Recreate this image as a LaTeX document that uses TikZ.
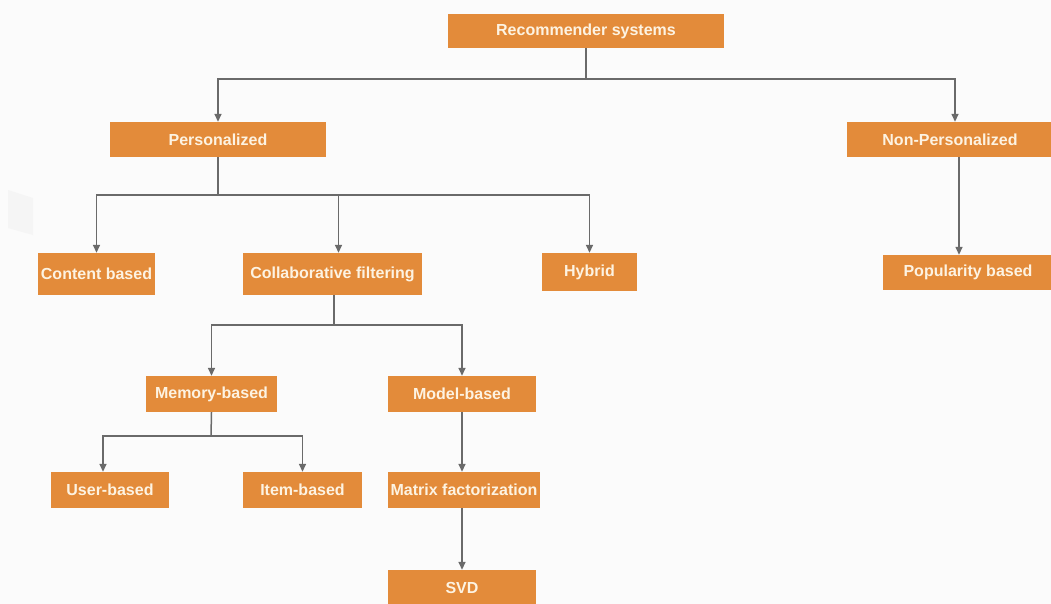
\documentclass[tikz,border=0pt]{standalone}
\usepackage{fontspec}
\setmainfont{Liberation Sans}
\usetikzlibrary{arrows.meta}
\definecolor{boxorange}{HTML}{E38B3A}
\definecolor{boxtext}{HTML}{FDF3E2}
\definecolor{linegray}{HTML}{6A6A6A}
\definecolor{bg}{HTML}{FBFBFB}
\tikzset{
  box/.style={fill=boxorange, text=boxtext, font=\bfseries\fontsize{16}{18}\selectfont, inner sep=0pt, anchor=center},
  conn/.style={draw=linegray, line width=1.5pt},
  arr/.style={conn, -{Triangle[length=8pt,width=7pt]}}
}
\begin{document}
\begin{tikzpicture}[x=1pt,y=-1pt]
\fill[bg] (0,0) rectangle (1051,604);
\useasboundingbox (0,0) rectangle (1051,604);
\fill[gray!8] (8,190) -- (33,198) -- (33,235) -- (8,228) -- cycle;
% nodes
\node[box, minimum width=276pt, minimum height=34pt] (rs) at (586,31) {Recommender systems};
\node[box, minimum width=216pt, minimum height=35pt] (pers) at (218,139.5) {Personalized};
\node[box, minimum width=206pt, minimum height=35pt] (nonp) at (950,139.5) {Non-Personalized};
\node[box, minimum width=117pt, minimum height=42pt] (cont) at (96.5,274) {Content based};
\node[box, minimum width=179pt, minimum height=42pt] (coll) at (332.5,274) {Collaborative filtering};
\node[box, minimum width=95pt, minimum height=38pt] (hyb) at (589.5,272) {Hybrid};
\node[box, minimum width=170pt, minimum height=35pt] (pop) at (968,272.5) {Popularity based};
\node[box, minimum width=131pt, minimum height=36pt] (mem) at (211.5,394) {Memory-based};
\node[box, minimum width=148pt, minimum height=36pt] (mod) at (462,394) {Model-based};
\node[box, minimum width=118pt, minimum height=36pt] (user) at (110,490) {User-based};
\node[box, minimum width=119pt, minimum height=36pt] (item) at (302.5,490) {Item-based};
\node[box, minimum width=152pt, minimum height=36pt] (mf) at (464,490) {Matrix factorization};
\node[box, minimum width=148pt, minimum height=36pt] (svd) at (462,588) {SVD};
% junction coordinates
\coordinate (j1) at (586,79);
\coordinate (j2) at (218,195);
\coordinate (j3) at (334,325);
\coordinate (j4) at (211,436);
% connectors
\draw[conn] (rs.south) -- (j1);
\draw[arr] (j1) -| (pers.north);
\draw[arr] (j1) -| ([xshift=5pt]nonp.north);
\draw[conn] (pers.south) -- (j2);
\draw[arr] (j2) -| (cont.north);
\draw[arr] (j2) -| ([xshift=6pt]coll.north);
\draw[arr] (j2) -| (hyb.north);
\draw[arr] ([xshift=9pt]nonp.south) -- ([xshift=-9pt]pop.north);
\draw[conn] ([xshift=1.5pt]coll.south) -- (j3);
\draw[arr] (j3) -| (mem.north);
\draw[arr] (j3) -| (mod.north);
\draw[conn] (mem.south) -- (j4);
\draw[arr] (j4) -| ([xshift=-7pt]user.north);
\draw[arr] (j4) -| (item.north);
\draw[arr] (mod.south) -- ([xshift=-2pt]mf.north);
\draw[arr] ([xshift=-2pt]mf.south) -- (svd.north);
\end{tikzpicture}
\end{document}
